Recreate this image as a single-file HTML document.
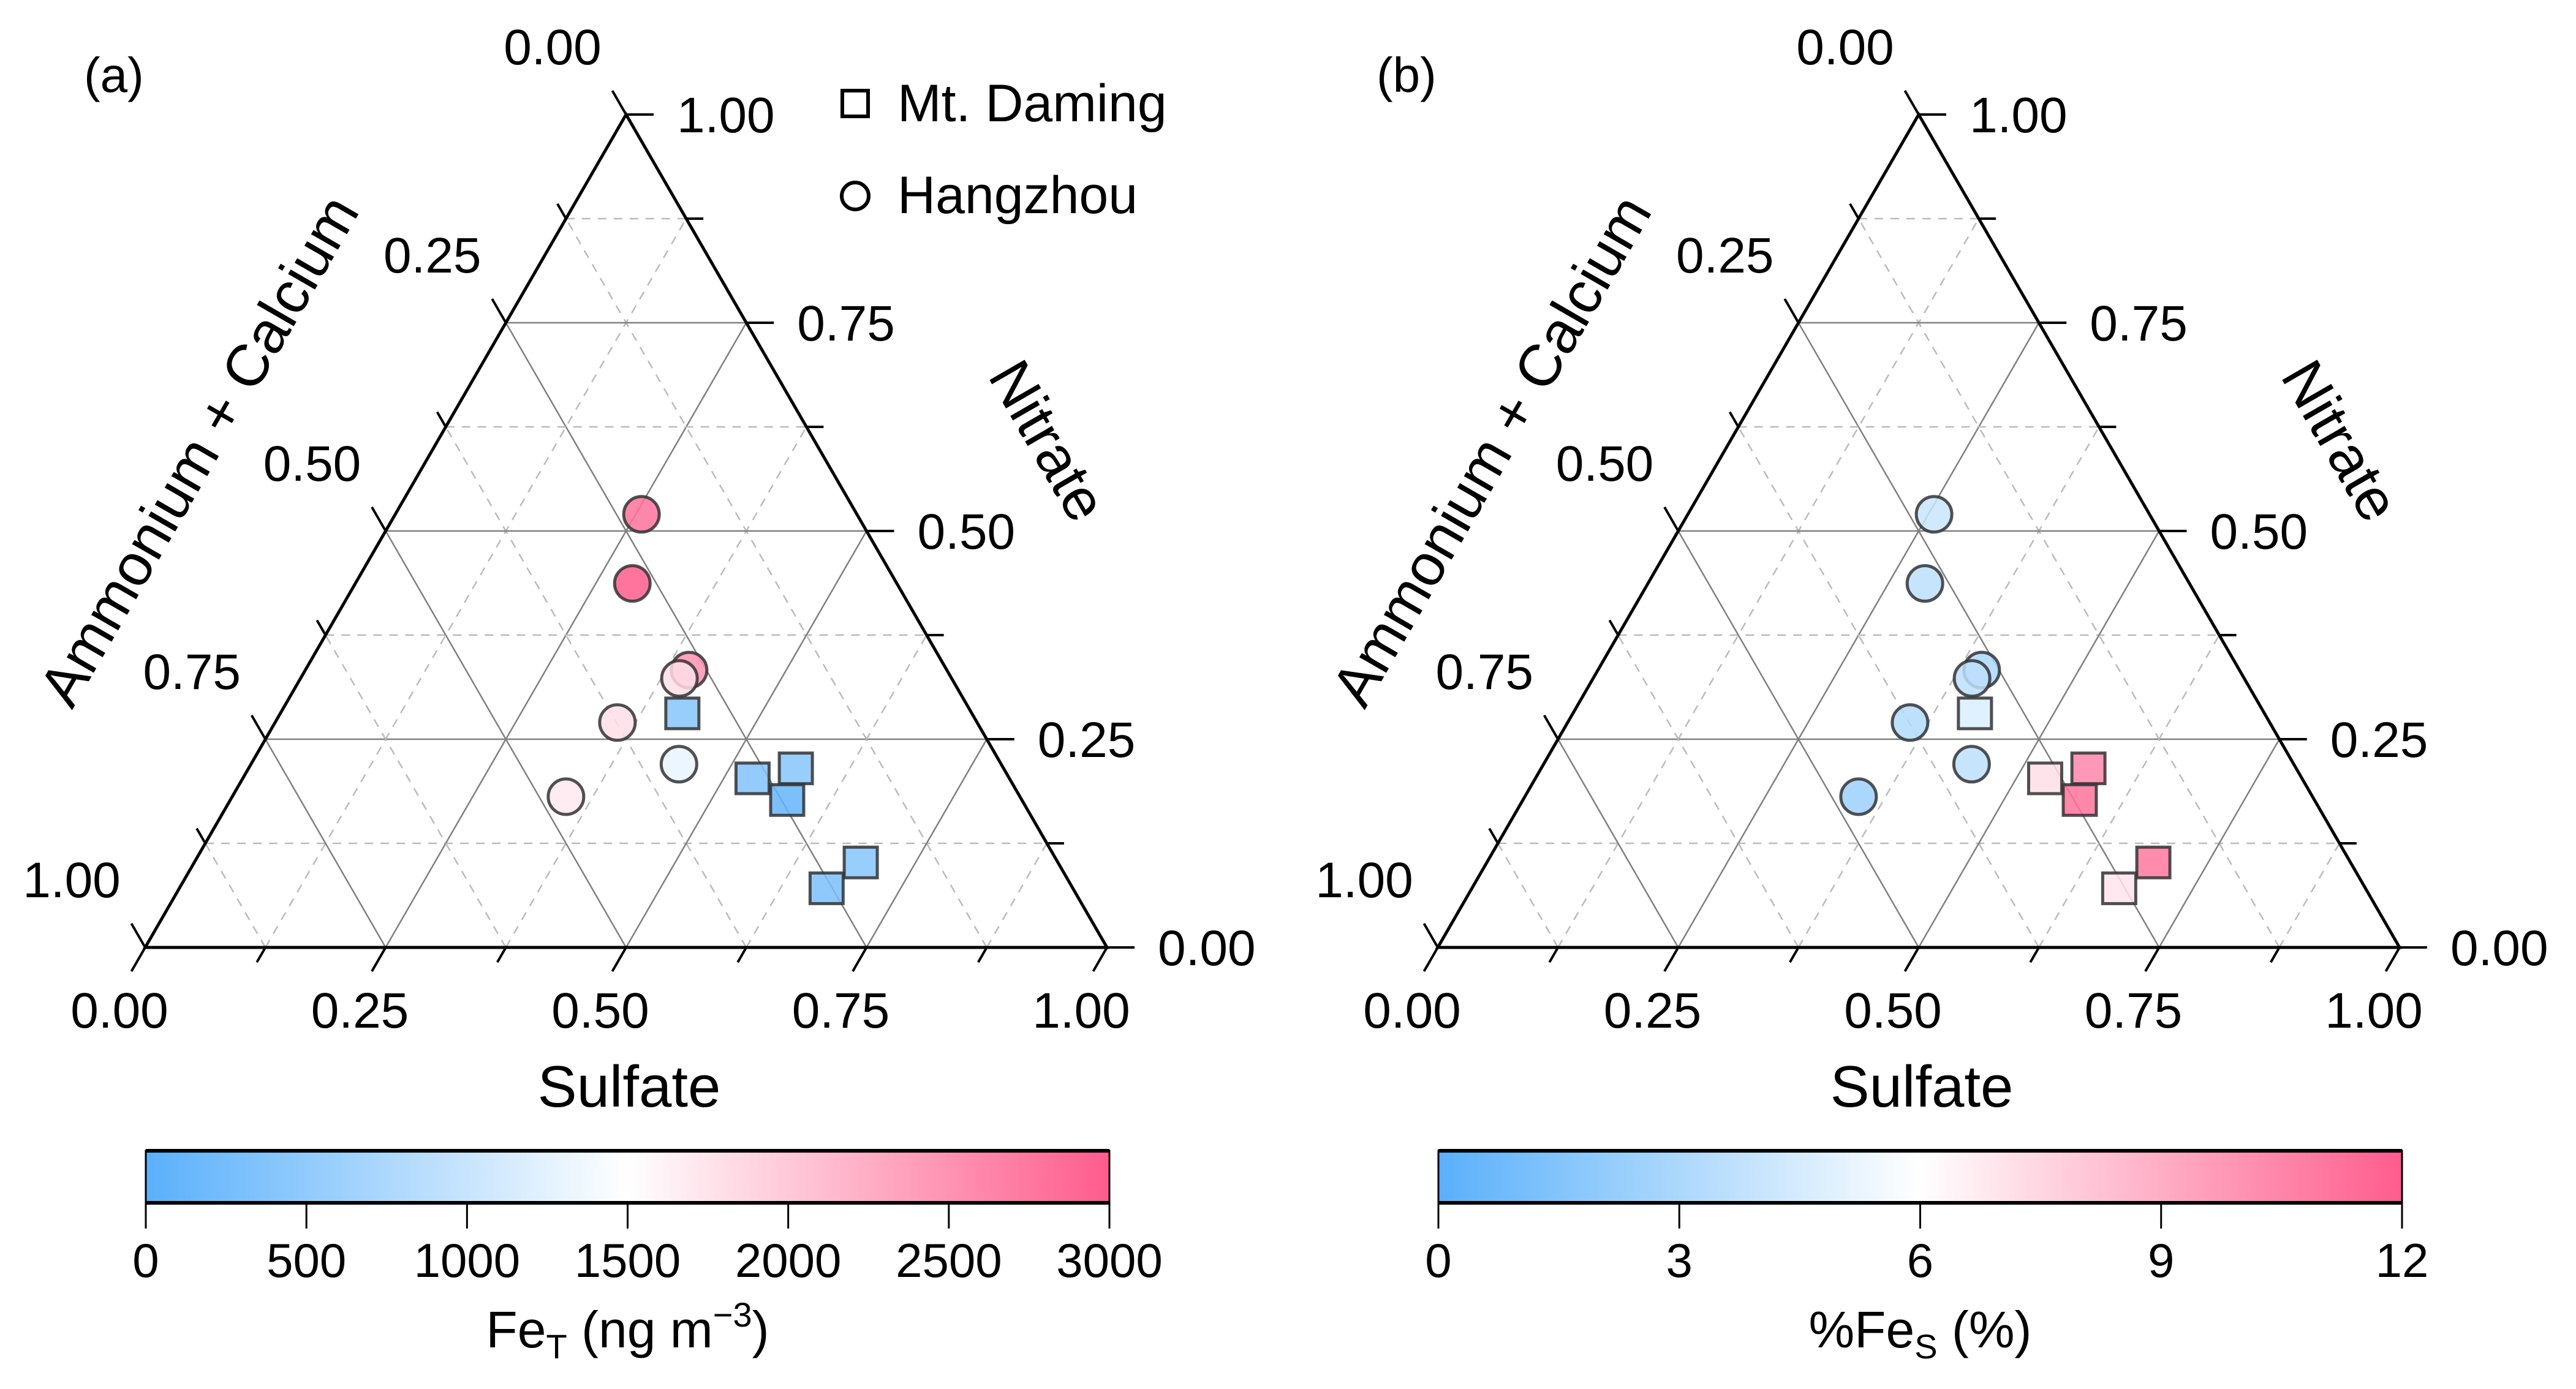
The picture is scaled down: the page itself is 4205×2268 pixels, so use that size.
<!DOCTYPE html>
<html><head><meta charset="utf-8"><style>
html,body{margin:0;padding:0;background:#fff}
svg{display:block;font-family:"Liberation Sans",Arial,sans-serif}
</style></head><body>
<svg id="fig" width="4205" height="2268" viewBox="0 0 4205 2268" xmlns="http://www.w3.org/2000/svg"></svg>
<script>
// ---- data ----
const circleSulfate = [0.256, 0.288, 0.399, 0.394, 0.356, 0.445, 0.347];
const circleNitrate = [0.520, 0.437, 0.333, 0.323, 0.270, 0.220, 0.181];
const squareSulfate = [0.418, 0.530, 0.569, 0.579, 0.693, 0.673];
const squareNitrate = [0.281, 0.203, 0.215, 0.177, 0.102, 0.071];
const circleFeT = [2800, 3000, 2500, 1800, 1800, 1300, 1700];
const squareFeT = [400, 350, 400, 100, 400, 300];
const circleFeS = [4.0, 3.6, 3.0, 3.6, 3.2, 3.6, 2.4];
const squareFeS = [4.6, 7.2, 10.5, 11.2, 11.0, 7.0];
const fetTicks = [0, 500, 1000, 1500, 2000, 2500, 3000];
const fesTicks = [0, 3, 6, 9, 12];
const axisTicks = [0, 0.25, 0.5, 0.75, 1];

const NS = "http://www.w3.org/2000/svg";
const svg = document.getElementById('fig');
function el(tag, attrs, parent, text){
  const e = document.createElementNS(NS, tag);
  for (const k in attrs) e.setAttribute(k, attrs[k]);
  if (text !== undefined) e.textContent = text;
  (parent || svg).appendChild(e);
  return e;
}
function cmap(t){
  t = Math.max(0, Math.min(1, t));
  const a=[90,176,250], w=[255,255,255], b=[255,92,140];
  let c;
  if (t < 0.5){ const u=t/0.5; c=a.map((v,i)=>v+(w[i]-v)*u); }
  else { const u=(t-0.5)/0.5; c=w.map((v,i)=>v+(b[i]-v)*u); }
  return 'rgb('+c.map(Math.round).join(',')+')';
}
const SIDE = 1570, H = 1360, BY = 1547;
function fmt(v){ return v.toFixed(2); }

function panel(bx, letter, cVals, sVals, vmin, vmax, ticks, cbLabelFn){
  const g = el('g', {});
  
  
  const P = (S, N) => [bx + SIDE*(S + N/2), BY - H*N];
  const grid = el('g', {}, g);
  
  
  for (let k = 1; k < 8; k++){
    const v = k/8, major = (k % 2 === 0);
    const st = major ? {stroke:'#808080','stroke-width':2.5,fill:'none'} : {stroke:'#bbb','stroke-width':2.5,'stroke-dasharray':'14 12',fill:'none'};
    let a = P(0, v), b = P(1 - v, v);
    el('line', Object.assign({x1:a[0],y1:a[1],x2:b[0],y2:b[1]}, st), grid);
    a = P(v, 0); b = P(v, 1 - v);
    el('line', Object.assign({x1:a[0],y1:a[1],x2:b[0],y2:b[1]}, st), grid);
    a = P(1 - v, 0); b = P(0, 1 - v);
    el('line', Object.assign({x1:a[0],y1:a[1],x2:b[0],y2:b[1]}, st), grid);
  }
  const A0 = P(0,0), A1 = P(1,0), A2 = P(0,1);
  const frame = el('polygon', {points:[A0,A1,A2].map(p=>p.join(',')).join(' '), fill:'none', stroke:'#000','stroke-width':5,'stroke-linejoin':'miter'}, g);
  
  
  for (let k = 0; k <= 8; k++){
    const v = k/8, L = (k % 2 === 0) ? 45 : 28;
    let p = P(v, 0);
    el('line', {x1:p[0],y1:p[1],x2:p[0]-0.5*L,y2:p[1]+0.866*L,stroke:'#000','stroke-width':4}, g);
    p = P(1 - v, v);
    el('line', {x1:p[0],y1:p[1],x2:p[0]+L,y2:p[1],stroke:'#000','stroke-width':4}, g);
    p = P(0, v);
    el('line', {x1:p[0],y1:p[1],x2:p[0]-0.5*L,y2:p[1]-0.866*L,stroke:'#000','stroke-width':4}, g);
  }
  axisTicks.forEach(v => {
    let p = P(v, 0);
    let t = el('text', {x:p[0]-42, y:p[1]+131, 'font-size':82, 'text-anchor':'middle'}, g, fmt(v));
    
    
    p = P(1 - v, v);
    t = el('text', {x:p[0]+83, y:p[1]+29, 'font-size':82, 'text-anchor':'start'}, g, fmt(v));
    
    
    p = P(0, 1 - v);
    t = el('text', {x:p[0]-120, y:p[1]-82, 'font-size':82, 'text-anchor':'middle'}, g, fmt(v));
    
    
  });
  let t = el('text', {x:bx+790, y:1807, 'font-size':96, 'text-anchor':'middle'}, g, 'Sulfate');
  
  
  t = el('text', {x:0, y:0, 'font-size':96, 'text-anchor':'middle', transform:'translate('+(bx+1445)+',736) rotate(60)'}, g, 'Nitrate');
  
  
  t = el('text', {x:0, y:0, 'font-size':96, 'text-anchor':'middle', transform:'translate('+(bx+116)+',752) rotate(-60)'}, g, 'Ammonium + Calcium');
  
  
  t = el('text', {x:bx-100, y:150, 'font-size':80}, g, '(' + letter + ')');
  
  
  const norm = v => (v - vmin)/(vmax - vmin);
  circleSulfate.forEach((s, i) => {
    const p = P(s, circleNitrate[i]);
    const c = el('circle', {cx:p[0], cy:p[1], r:29, fill:cmap(norm(cVals[i])), 'fill-opacity':0.85, stroke:'#333','stroke-opacity':0.85,'stroke-width':5}, g);
    
    
  });
  squareSulfate.forEach((s, i) => {
    const p = P(s, squareNitrate[i]);
    const r = el('rect', {x:p[0]-27, y:p[1]-25, width:54, height:50, fill:cmap(norm(sVals[i])), 'fill-opacity':0.85, stroke:'#333','stroke-opacity':0.85,'stroke-width':5}, g);
    
    
  });
  const cb = el('g', {}, g);
  
  
  const gid = 'grad' + letter;
  const defs = el('defs', {}, cb);
  const lg = el('linearGradient', {id:gid, x1:0, x2:1, y1:0, y2:0}, defs);
  for (let k = 0; k <= 10; k++) el('stop', {offset:k/10, 'stop-color':cmap(k/10)}, lg);
  const x0 = bx + 1, x1 = bx + 1574;
  el('rect', {x:x0, y:1879, width:x1-x0, height:85, fill:'url(#'+gid+')', stroke:'#000','stroke-width':3}, cb);
  el('line', {x1:x0, y1:1879, x2:x1, y2:1879, stroke:'#000','stroke-width':6}, cb);
  el('line', {x1:x0, y1:1964, x2:x1, y2:1964, stroke:'#000','stroke-width':6}, cb);
  ticks.forEach(v => {
    const x = x0 + (x1 - x0)*norm(v);
    el('line', {x1:x, y1:1964, x2:x, y2:2006, stroke:'#000','stroke-width':3}, cb);
    const tt = el('text', {x:x, y:2085, 'font-size':78, 'text-anchor':'middle'}, cb, String(v));
    
    
  });
  cbLabelFn(cb, (x0 + x1)/2);
}

panel(237, 'a', circleFeT, squareFeT, 0, 3000, fetTicks, (cb, cx) => {
  const t = el('text', {x:cx, y:2200, 'font-size':84, 'text-anchor':'middle'}, cb);
  
  
  el('tspan', {}, t, 'Fe');
  el('tspan', {'font-size':56, dy:18}, t, 'T');
  el('tspan', {dy:-18}, t, '  (ng m');
  el('tspan', {'font-size':56, dy:-34}, t, '−3');
  el('tspan', {dy:34}, t, ')');
});
panel(2347, 'b', circleFeS, squareFeS, 0, 12, fesTicks, (cb, cx) => {
  const t = el('text', {x:cx, y:2200, 'font-size':84, 'text-anchor':'middle'}, cb);
  
  
  el('tspan', {}, t, '%Fe');
  el('tspan', {'font-size':56, dy:18}, t, 'S');
  el('tspan', {dy:-18}, t, ' (%)');
});

const leg = el('g', {});


el('rect', {x:1375, y:148, width:42, height:42, fill:'none', stroke:'#000','stroke-width':6}, leg);
let lt = el('text', {x:1465, y:198, 'font-size':86}, leg, 'Mt. Daming');


el('circle', {cx:1396, cy:320, r:22, fill:'none', stroke:'#000','stroke-width':6}, leg);
lt = el('text', {x:1465, y:348, 'font-size':86}, leg, 'Hangzhou');


</script>
</body></html>
